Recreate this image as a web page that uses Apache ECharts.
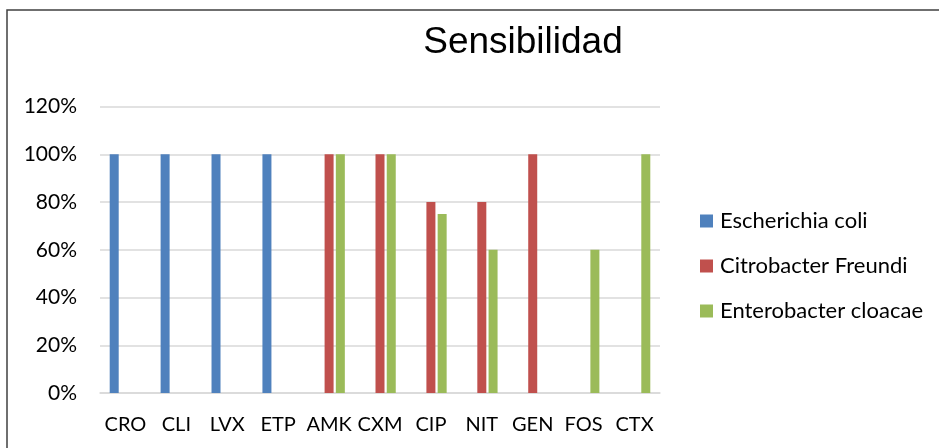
<!DOCTYPE html>
<html>
<head>
<meta charset="utf-8">
<script src="https://cdn.jsdelivr.net/npm/echarts@6/dist/echarts.min.js"></script>
<style>
  html, body { margin: 0; padding: 0; background: #fff; }
  #chart { width: 939px; height: 448px; }
</style>
</head>
<body>
<div id="chart"></div>
<script>
// antibióticos
const categories = ['CRO', 'CLI', 'LVX', 'ETP', 'AMK', 'CXM', 'CIP', 'NIT', 'GEN', 'FOS', 'CTX'];
// sensibilidad (%), null = sin barra
const ecoli = [100, 100, 100, 100, null, null, null, null, null, null, null];
const citrobacter = [null, null, null, null, 100, 100, 80, 80, 100, null, null];
const enterobacter = [null, null, null, null, 100, 100, 75, 60, null, 60, 100];
const seriesNames = ['Escherichia coli', 'Citrobacter Freundi', 'Enterobacter cloacae'];

const chart = echarts.init(document.getElementById('chart'));

const font = 'Lato, "Open Sans", sans-serif';

const option = {
  animation: false,
  backgroundColor: '#fff',
  color: ['#4F81BD', '#C0504D', '#9BBB59'],
  title: {
    text: 'Sensibilidad',
    left: 518,
    top: 19,
    textAlign: 'center',
    textStyle: {
      fontFamily: '"Liberation Sans", Arial, sans-serif',
      fontSize: 37,
      fontWeight: 'normal',
      color: '#000'
    }
  },
  legend: {
    orient: 'vertical',
    left: 700,
    top: 210,
    padding: 0,
    itemWidth: 13,
    itemHeight: 13,
    itemGap: 23,
    icon: 'rect',
    data: seriesNames,
    textStyle: { fontFamily: font, fontSize: 22, color: '#000', padding: [0, 0, 0, 2] }
  },
  grid: { left: 100, right: 279, top: 106.5, bottom: 55 },
  xAxis: {
    type: 'category',
    data: categories,
    axisTick: { show: false },
    axisLine: { lineStyle: { color: '#D9D9D9', width: 1.5 } },
    axisLabel: { interval: 0, fontFamily: font, fontSize: 20, color: '#000', margin: 22 }
  },
  yAxis: {
    type: 'value',
    min: 0,
    max: 120,
    interval: 20,
    axisLine: { show: false },
    axisTick: { show: false },
    splitLine: { lineStyle: { color: '#D9D9D9', width: 1.5 } },
    axisLabel: {
      fontFamily: font, fontSize: 21, color: '#000', margin: 23,
      formatter: '{value}%'
    }
  },
  series: [
    { name: seriesNames[0], type: 'bar', data: ecoli, barWidth: 9, barGap: '25%' },
    { name: seriesNames[1], type: 'bar', data: citrobacter, barWidth: 9, barGap: '25%' },
    { name: seriesNames[2], type: 'bar', data: enterobacter, barWidth: 9, barGap: '25%' }
  ],
  graphic: [{
    type: 'rect',
    shape: { x: 7, y: 10, width: 960, height: 460 },
    style: { fill: 'none', stroke: '#404040', lineWidth: 1.5 },
    silent: true
  }]
};

chart.setOption(option);
</script>
</body>
</html>
